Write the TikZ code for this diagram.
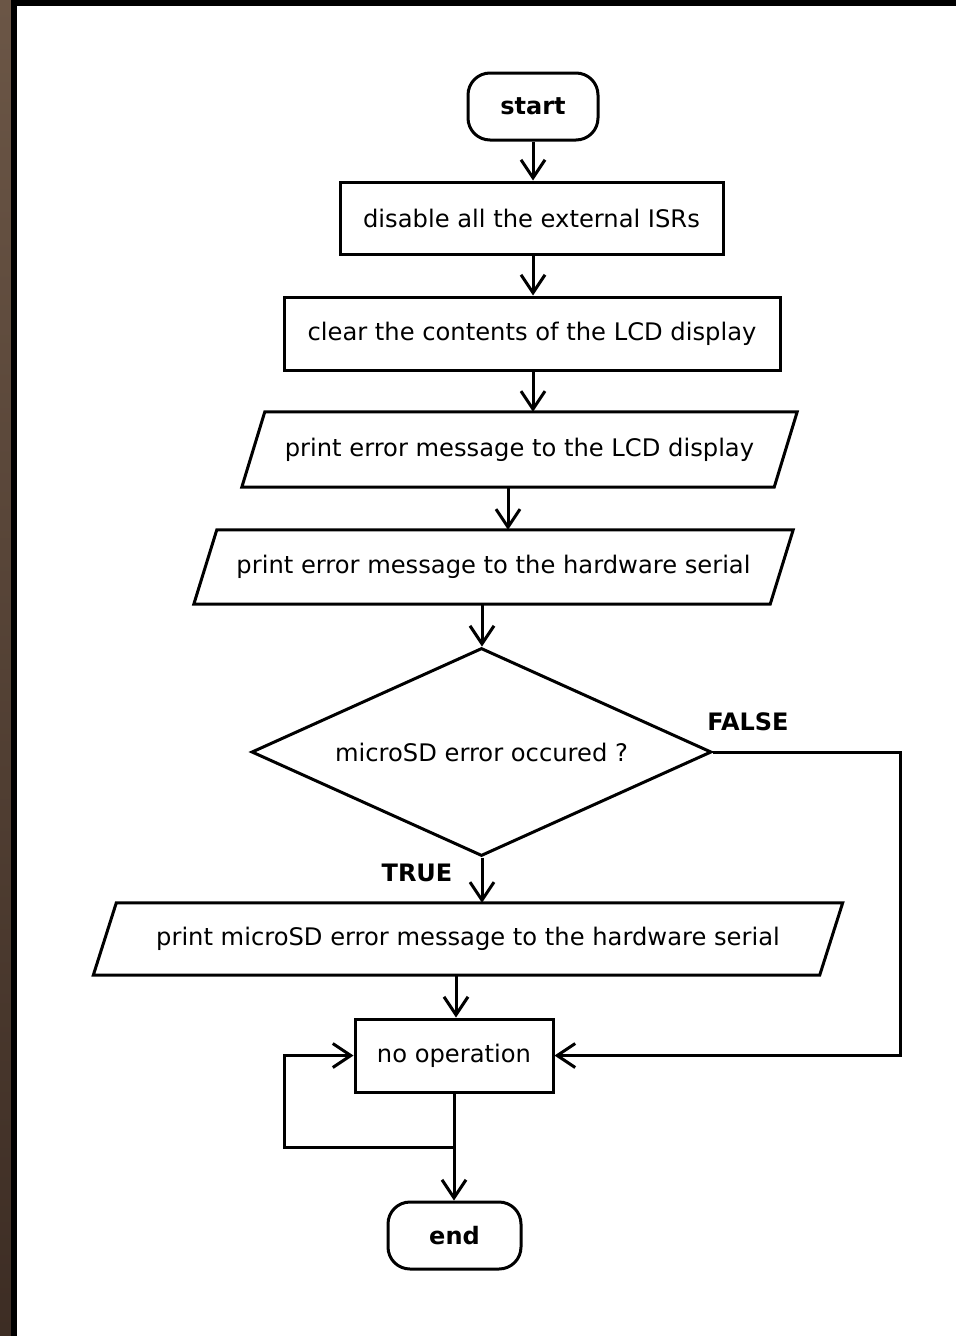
\documentclass[tikz,border=0pt]{standalone}
\usepackage{fontspec}
\setmainfont{DejaVu Sans}
\usetikzlibrary{shapes.geometric,arrows.meta,calc}
\definecolor{brownTop}{RGB}{107,86,70}
\definecolor{brownBot}{RGB}{61,45,36}
\begin{document}
\begin{tikzpicture}[x=1pt,y=-1pt,
  every node/.style={font=\fontsize{24.2}{29}\selectfont, text=black},
  base/.style={draw=black, line width=3pt, fill=white, inner sep=0pt},
  term/.style={base, rounded corners=22pt, font=\fontsize{24}{29}\selectfont\bfseries},
  procbox/.style={base, rectangle},
  iobox/.style={rectangle, inner sep=0pt},
  ioline/.style={draw=black, line width=3pt},
  decbox/.style={base, diamond, aspect=2.2},
  lab/.style={font=\fontsize{24}{29}\selectfont\bfseries},
  arr/.style={line width=3pt, -{Straight Barb[length=18pt,width=24pt]}}
]
\useasboundingbox (0,0) rectangle (956,1336);
\fill[white] (0,0) rectangle (956,1336);
\shade[top color=brownTop, bottom color=brownBot] (0,0) rectangle (11,1336);
\fill[black] (11,0) rectangle (17,1336);
\fill[black] (11,0) rectangle (956,6);

\node[term, minimum width=130, minimum height=67] (start) at (533,106.5) {start};
\node[procbox, minimum width=383, minimum height=72] (b1) at (531.5,218) {disable all the external ISRs};
\node[procbox, minimum width=496, minimum height=73] (b2) at (532,333.5) {clear the contents of the LCD display};
\node[iobox, minimum width=532, minimum height=75] (p1) at (519.5,449.5) {print error message to the LCD display};
\node[iobox, minimum width=576, minimum height=74] (p2) at (493.5,567) {print error message to the hardware serial};
\node[decbox, minimum width=460, minimum height=208] (dec) at (481.5,752) {microSD error occured ?};
\node[iobox, minimum width=726, minimum height=72] (p3) at (468,939) {print microSD error message to the hardware serial};
\node[procbox, minimum width=198, minimum height=73] (noop) at (454,1055.5) {no operation};
\node[term, minimum width=133, minimum height=67] (end) at (454.5,1235.5) {end};

\foreach \p in {p1,p2,p3}{
  \draw[ioline] ([xshift=-11.5]\p.south west) -- ([xshift=11.5]\p.north west)
    -- ([xshift=11.5]\p.north east) -- ([xshift=-11.5]\p.south east) -- cycle;
}

\node[lab] (lfalse) at (748,722) {FALSE};
\node[lab] (ltrue) at (417,873) {TRUE};

\draw[arr] (start.south) -- (start.south |- b1.north);
\draw[arr] ([xshift=1.5]b1.south) -- ([xshift=1.5]b1.south |- b2.north);
\draw[arr] ([xshift=1]b2.south) -- ([xshift=1]b2.south |- p1.north);
\draw[arr] ([xshift=-11.5]p1.south) -- ([xshift=-11.5]p1.south |- p2.north);
\draw[arr] ([xshift=-11.5]p2.south) -- ([xshift=-11.5]p2.south |- dec.north);
\draw[arr] ([xshift=0.5]dec.south) -- ([xshift=0.5]dec.south |- p3.north);
\draw[arr] ([xshift=-12]p3.south) -- ([xshift=-12]p3.south |- noop.north);
\draw[arr] (dec.east) -- ++(187,0) |- (noop.east);
\draw[arr] (noop.south) -- (noop.south |- end.north);
\coordinate (split) at ($(noop.south)!0.5!(noop.south |- end.north)$);
\draw[arr] (split) -- ++(-170,0) |- (noop.west);
\end{tikzpicture}
\end{document}
